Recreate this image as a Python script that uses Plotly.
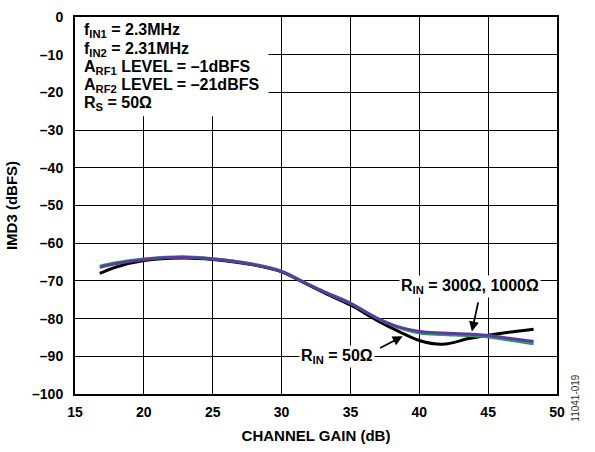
import plotly.graph_objects as go

# Channel gain (dB) sample points and IMD3 (dBFS) for each input resistance
gain_50 = [16.8, 18.0, 20.0, 22.8, 25.0, 27.7, 30.0, 31.3, 33.0, 35.0, 36.9, 38.5, 40.0, 41.7, 43.6, 45.0, 46.5, 48.3]
imd3_50 = [-68.0, -66.3, -64.6, -63.9, -64.3, -65.6, -67.6, -69.9, -73.0, -76.4, -80.4, -83.4, -85.8, -86.8, -85.3, -84.4, -83.6, -82.8]

gain_hi = [16.8, 18.0, 20.0, 22.8, 25.0, 27.7, 30.0, 31.3, 33.0, 35.0, 37.0, 38.5, 40.0, 41.7, 43.6, 45.0, 46.5, 48.3]
imd3_300 = [-66.4, -65.4, -64.3, -63.7, -64.2, -65.5, -67.5, -69.8, -72.8, -76.0, -80.0, -82.2, -83.4, -83.8, -84.1, -84.5, -85.2, -86.1]
imd3_1000 = [-66.1, -65.2, -64.2, -63.6, -64.1, -65.4, -67.4, -69.7, -72.7, -75.9, -80.0, -82.4, -83.8, -84.2, -84.5, -84.9, -85.7, -86.7]

x_ticks = [15, 20, 25, 30, 35, 40, 45, 50]
y_ticks = [0, -10, -20, -30, -40, -50, -60, -70, -80, -90, -100]

cond_lines = [
    "f<sub>IN1</sub> = 2.3MHz",
    "f<sub>IN2</sub> = 2.31MHz",
    "A<sub>RF1</sub> LEVEL = –1dBFS",
    "A<sub>RF2</sub> LEVEL = –21dBFS",
    "R<sub>S</sub> = 50Ω",
]

FONT = "Liberation Sans, Arial, sans-serif"
BOLD16 = dict(family=FONT, size=16, color="black", weight="bold")

fig = go.Figure()
fig.add_trace(go.Scatter(x=gain_50, y=imd3_50, mode="lines",
                         line=dict(color="#000000", width=3, shape="spline"), name="RIN = 50Ω"))
fig.add_trace(go.Scatter(x=gain_hi, y=imd3_1000, mode="lines",
                         line=dict(color="#2e9a6c", width=3, shape="spline"), name="RIN = 1000Ω"))
fig.add_trace(go.Scatter(x=gain_hi, y=imd3_300, mode="lines",
                         line=dict(color="#5a3c9c", width=3, shape="spline"), name="RIN = 300Ω"))

# White panel behind the test-condition text
fig.add_shape(type="rect", xref="x", yref="y", x0=15, x1=29.05, y0=-26.3, y1=0,
              fillcolor="white", line=dict(width=0), layer="between")

# Test conditions, one line per annotation for tight spacing
cond_y = [-3.6, -8.5, -13.4, -18.3, -23.0]
for txt, yv in zip(cond_lines, cond_y):
    fig.add_annotation(x=15.5, y=yv, xref="x", yref="y", xanchor="left", yanchor="middle",
                       text=txt, showarrow=False, align="left", font=BOLD16)

# Curve labels
fig.add_annotation(x=43.68, y=-71.4, xref="x", yref="y", text="R<sub>IN</sub> = 300Ω, 1000Ω",
                   showarrow=False, bgcolor="white", borderpad=1, font=BOLD16)
fig.add_annotation(x=34.06, y=-90.1, xref="x", yref="y", text="R<sub>IN</sub> = 50Ω",
                   showarrow=False, bgcolor="white", borderpad=1, font=BOLD16)

# Leader arrows
fig.add_annotation(x=43.82, y=-83.4, ax=44.3, ay=-75.3, xref="x", yref="y", axref="x", ayref="y",
                   text="", showarrow=True, arrowhead=2, arrowsize=1.1, arrowwidth=1.8, arrowcolor="black")
fig.add_annotation(x=38.79, y=-84.7, ax=37.05, ay=-88.0, xref="x", yref="y", axref="x", ayref="y",
                   text="", showarrow=True, arrowhead=2, arrowsize=1.1, arrowwidth=1.8, arrowcolor="black")

# Figure reference number
fig.add_annotation(x=1.054, y=-0.08, xref="paper", yref="paper", text="11041-019", showarrow=False,
                   textangle=-90, font=dict(family=FONT, size=10, color="#333333"))

axis_common = dict(showline=True, linecolor="black", linewidth=2, mirror=True,
                   showgrid=True, gridcolor="black", gridwidth=1, zeroline=False, ticks="",
                   tickfont=dict(family=FONT, size=14, color="black", weight="bold"))

fig.update_xaxes(range=[15, 50], tickvals=x_ticks, ticktext=[str(v) for v in x_ticks],
                 ticklabelstandoff=4,
                 title=dict(text="CHANNEL GAIN (dB)", standoff=12,
                            font=dict(family=FONT, size=15, color="black", weight="bold")),
                 **axis_common)
fig.update_yaxes(range=[-100, 0], tickvals=y_ticks,
                 ticktext=[("–" + str(-v)) if v < 0 else str(v) for v in y_ticks],
                 ticklabelstandoff=7,
                 title=dict(text="IMD3 (dBFS)", standoff=11,
                            font=dict(family=FONT, size=15, color="black", weight="bold")),
                 **axis_common)

fig.update_layout(width=595, height=452, margin=dict(l=75, r=38, t=9, b=58),
                  paper_bgcolor="white", plot_bgcolor="white", showlegend=False,
                  font=dict(family=FONT))

fig.write_html("out.html")
